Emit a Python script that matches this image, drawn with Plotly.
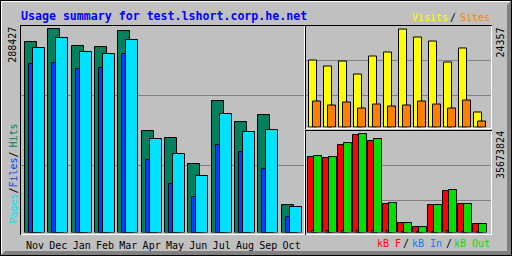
import plotly.graph_objects as go

W, H = 512, 256

# ---------------- data ----------------
months = ["Nov", "Dec", "Jan", "Feb", "Mar", "Apr", "May", "Jun", "Jul", "Aug", "Sep", "Oct"]
hits = [270000, 288427, 264300, 262900, 285600, 143900, 134000, 96600, 186600, 156300, 166200, 38400]
files = [239100, 240500, 231600, 233000, 252900, 102300, 68600, 51100, 123600, 113700, 89500, 21300]
pages = [261400, 275600, 255700, 252900, 272800, 132600, 110800, 80000, 167700, 142100, 145300, 36900]
visits = [16650, 15160, 16400, 13170, 17640, 18640, 24357, 22370, 21370, 16150, 19630, 3730]
sites = [6540, 5470, 6210, 4720, 5720, 5220, 5470, 6540, 5720, 4720, 6780, 1570]
kb_f = [27330000, 26960000, 31680000, 35310000, 33130000, 10270000, 3266000, 1815000,
        9907000, 14990000, 10270000, 2903000]
kb_in = [420000, 400000, 450000, 480000, 460000, 380000, 300000, 280000, 350000, 400000, 360000, 300000]
kb_out = [27690000, 27330000, 32410000, 35673824, 33860000, 10630000, 3266000, 1815000,
          9907000, 15350000, 10270000, 2903000]

max_hits = 288427
max_visits = 24357
max_kb = 35673824

# ---------------- colours ----------------
BG = "#C0C0C0"
DK = "#808080"
C_HITS, C_FILES, C_PAGES = "#00805C", "#0040FF", "#00E0FF"
C_VIS, C_SITES = "#FFFF00", "#FF8000"
C_KBF, C_KBIN, C_KBOUT = "#FF0000", "#0080FF", "#00E000"
FONT = "DejaVu Sans Mono"


def fx(x):
    return x / W


def fy(y):
    return 1 - y / H


fig = go.Figure()

# ---------------- panel geometry (pixels) ----------------
L_x0, L_x1, L_top, L_base = 21, 304, 26, 232.5
L_unit, L_c0 = 23.33, 35.0
R_x0, R_x1 = 306, 491
R_unit, R_c0 = 15.0, 315.0
T_top, T_base = 25.5, 127.5
B_top, B_base = 131, 232.5


def xrange_for(x0, x1, unit, c0):
    r0 = -(c0 - x0) / unit
    return [r0, r0 + (x1 - x0) / unit]


def bar(y, color, xa, ya, off_px, w_px, unit):
    return go.Bar(x=months, y=y, xaxis=xa, yaxis=ya,
                  marker=dict(color=color, line=dict(color="black", width=1)),
                  offset=off_px / unit, width=w_px / unit, showlegend=False,
                  hoverinfo="skip")


# left: hits, files, pages
fig.add_trace(bar(hits, C_HITS, "x", "y", -10, 12, L_unit))
fig.add_trace(bar(files, C_FILES, "x", "y", -6, 12, L_unit))
fig.add_trace(bar(pages, C_PAGES, "x", "y", -2, 12, L_unit))
# top right: visits, sites
fig.add_trace(bar(visits, C_VIS, "x2", "y2", -5.7, 7.7, R_unit))
fig.add_trace(bar(sites, C_SITES, "x2", "y2", -2, 7.7, R_unit))
# bottom right: kB F, kB In, kB Out
fig.add_trace(bar(kb_f, C_KBF, "x3", "y3", -6.7, 6.8, R_unit))
fig.add_trace(bar(kb_in, C_KBIN, "x3", "y3", -3.5, 6.8, R_unit))
fig.add_trace(bar(kb_out, C_KBOUT, "x3", "y3", -0.7, 7.2, R_unit))

R_h = max_hits * (L_base - L_top) / (L_base - 29.3)
R_v = max_visits * (T_base - T_top) / (T_base - 29.3)
R_k = max_kb * (B_base - B_top) / (B_base - 134)

ax_common = dict(showgrid=False, zeroline=False, showline=False, fixedrange=True)

fig.update_layout(
    width=W, height=H, autosize=False,
    margin=dict(l=0, r=0, t=0, b=0, pad=0),
    paper_bgcolor=BG, plot_bgcolor="rgba(0,0,0,0)",
    barmode="overlay", bargap=0,
    xaxis=dict(domain=[fx(L_x0), fx(L_x1)], range=xrange_for(L_x0, L_x1, L_unit, L_c0),
               type="category", anchor="y", showticklabels=True,
               ticks="outside", ticklen=3, tickcolor="rgba(0,0,0,0)",
               tickfont=dict(family=FONT, size=10, color="black"), **ax_common),
    yaxis=dict(domain=[fy(L_base), fy(L_top)], range=[0, R_h], anchor="x",
               showticklabels=False, ticks="", **ax_common),
    xaxis2=dict(domain=[fx(R_x0), fx(R_x1)], range=xrange_for(R_x0, R_x1, R_unit, R_c0),
                type="category", anchor="y2", showticklabels=False, ticks="", **ax_common),
    yaxis2=dict(domain=[fy(T_base), fy(T_top)], range=[0, R_v], anchor="x2",
                showticklabels=False, ticks="", **ax_common),
    xaxis3=dict(domain=[fx(R_x0), fx(R_x1)], range=xrange_for(R_x0, R_x1, R_unit, R_c0),
                type="category", anchor="y3", showticklabels=False, ticks="", **ax_common),
    yaxis3=dict(domain=[fy(B_base), fy(B_top)], range=[0, R_k], anchor="x3",
                showticklabels=False, ticks="", **ax_common),
)

shapes = []


def hline(y, x0, x1, color, layer="above", w=1):
    shapes.append(dict(type="line", xref="paper", yref="paper", x0=fx(x0), x1=fx(x1),
                       y0=fy(y), y1=fy(y), line=dict(color=color, width=w), layer=layer))


def vline(x, y0, y1, color, layer="above", w=1):
    shapes.append(dict(type="line", xref="paper", yref="paper", x0=fx(x), x1=fx(x),
                       y0=fy(y0), y1=fy(y1), line=dict(color=color, width=w), layer=layer))


# gridlines (pixel rows)
for gy in (95, 165):
    hline(gy + 0.5, 21, 304, DK, "below")
for gy in (60, 95):
    hline(gy + 0.5, 306, 491, DK, "below")
for gy in (165, 200):
    hline(gy + 0.5, 306, 491, DK, "below")

# sunken panel borders
for (x0, y0, x1, y1) in [(20, 25, 304, 234), (305, 25, 491, 128), (305, 130, 491, 234)]:
    hline(y0 + 0.5, x0, x1 + 1, "black")
    vline(x0 + 0.5, y0, y1 + 1, "black")
    hline(y1 + 0.5, x0 + 1, x1 + 1, "white")
    vline(x1 + 0.5, y0 + 1, y1 + 1, "white")


def path(pts):
    return "M " + " L ".join(f"{fx(x)},{fy(y)}" for x, y in pts) + " Z"


# outer raised frame
shapes.append(dict(type="path", xref="paper", yref="paper",
                   path=path([(1, 255), (511, 255), (511, 1), (507, 5), (507, 251), (5, 251)]),
                   fillcolor=DK, line=dict(width=0), layer="above"))
hline(1.5, 1, 510, "white")
vline(1.5, 1, 254, "white")
hline(0.5, 0, 512, "black")
hline(255.5, 0, 512, "black")
vline(0.5, 0, 256, "black")
vline(511.5, 0, 256, "black")

fig.update_layout(shapes=shapes)

ann = []


def text(t, x, y, color, xanchor="left", size=10, angle=0, bold=False):
    ann.append(dict(text=(f"<b>{t}</b>" if bold else t), x=fx(x), y=fy(y), xref="paper",
                    yref="paper", xanchor=xanchor, yanchor="middle", showarrow=False,
                    textangle=angle, borderpad=0,
                    font=dict(family=FONT, size=size, color=color)))


text("Usage summary for test.lshort.corp.he.net", 19.5, 15.5, "#0000FF", size=11.6, bold=True)
text("Visits", 411.2, 17, C_VIS)
text("/", 453, 17, "black", "center")
text("Sites", 459.3, 17, C_SITES)
text("kB F", 375.5, 243, C_KBF)
text("/", 405.8, 243, "black", "center")
text("kB In", 411.2, 243, C_KBIN)
text("/", 449.2, 243, "black", "center")
text("kB Out", 453.3, 243, C_KBOUT)

text(f"{max_hits}", 12.5, 45.3, "black", "center", angle=-90)
text("Pages", 12.5, 209, C_PAGES, "center", angle=-90)
text("/", 12.5, 191, "black", "center", angle=-90)
text("Files", 12.5, 173, C_FILES, "center", angle=-90)
text("/", 12.5, 155, "black", "center", angle=-90)
text("Hits", 12.5, 136, C_HITS, "center", angle=-90)
text(f"{max_visits}", 500, 42.5, "black", "center", angle=-90)
text(f"{max_kb}", 500, 155, "black", "center", angle=-90)

fig.update_layout(annotations=ann)

fig.write_html("out.html")
